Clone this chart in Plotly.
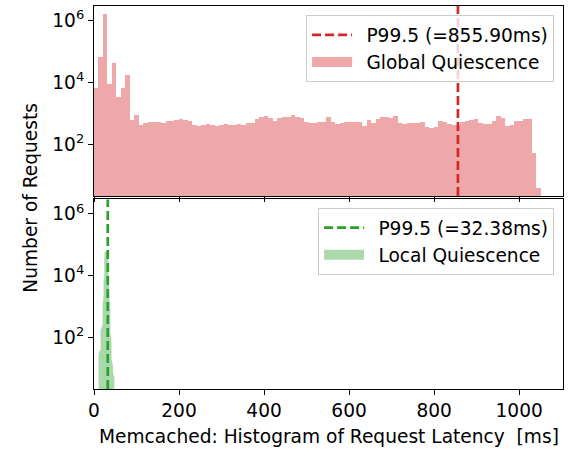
import plotly.graph_objects as go

# Latency histogram: Global Quiescence (10.51 ms bins starting at 0 ms)
global_bin_width = 10.51
global_counts = [
    6550, 64000, 1560000, 8600, 41000, 3500, 6400, 16800, 594, 861,
    410, 475, 515, 508, 512, 476, 552, 548, 594, 640,
    594, 552, 410, 405, 412, 442, 410, 381, 410, 442,
    410, 412, 442, 410, 476, 472, 640, 743, 800, 690,
    552, 690, 743, 740, 861, 743, 690, 513, 476, 476,
    513, 510, 743, 513, 442, 476, 513, 515, 510, 513,
    381, 594, 476, 640, 743, 740, 690, 800, 476, 442,
    476, 478, 474, 513, 354, 328, 354, 552, 513, 442,
    410, 410, 513, 552, 594, 640, 476, 442, 445, 552,
    800, 690, 381, 410, 552, 550, 640, 645, 51, 4,
]

# Latency histogram: Local Quiescence (1 ms bins starting at 12 ms)
local_bin_start = 12
local_bin_width = 1.0
local_counts = [
    30, 35, 33, 35, 40, 180, 200, 220, 230, 250,
    1500, 2200, 7000, 9000, 40000, 55000, 58000, 60000, 58000, 50000,
    40000, 20000, 9000, 3000, 1500, 800, 120, 90, 70, 18,
    15, 12, 7, 6, 5,
]

global_p995 = 855.90
local_p995 = 32.38

series_names = ["Global Quiescence", "Local Quiescence"]
x_ticks = [0, 200, 400, 600, 800, 1000]
y_tick_vals = [1e2, 1e4, 1e6]
y_tick_text = ["10<sup>2</sup>", "10<sup>4</sup>", "10<sup>6</sup>"]

RED = "#d62728"
GREEN = "#2ca02c"
RED_FILL = "rgb(238,168,169)"
GREEN_FILL = "rgb(171,217,171)"
FONT = "DejaVu Sans"
FS = 18.6
PAD = "\u2002"  # spacing between legend handle and label

global_x = [global_bin_width * (i + 0.5) for i in range(len(global_counts))]
local_x = [local_bin_start + local_bin_width * (i + 0.5) for i in range(len(local_counts))]

fig = go.Figure()

fig.add_trace(go.Bar(
    x=global_x, y=global_counts, width=global_bin_width,
    marker=dict(color=RED_FILL, line=dict(width=0)),
    showlegend=False, xaxis="x", yaxis="y",
))
fig.add_trace(go.Bar(
    x=local_x, y=local_counts, width=local_bin_width,
    marker=dict(color=GREEN_FILL, line=dict(width=0.4, color=GREEN_FILL)),
    showlegend=False, xaxis="x2", yaxis="y2",
))

# legend patches for the histograms
fig.add_trace(go.Scatter(
    x=[None], y=[None], mode="lines", name=PAD + series_names[0],
    line=dict(color=RED_FILL, width=12.6), legend="legend",
    legendrank=2, xaxis="x", yaxis="y",
))
fig.add_trace(go.Scatter(
    x=[None], y=[None], mode="lines", name=PAD + series_names[1],
    line=dict(color=GREEN_FILL, width=12.6), legend="legend2",
    legendrank=2, xaxis="x2", yaxis="y2",
))

# P99.5 markers
fig.add_shape(
    type="line", xref="x", yref="y domain", x0=global_p995, x1=global_p995, y0=0, y1=1,
    line=dict(color=RED, width=2.7, dash="9px,4px"),
    showlegend=True, name=f"{PAD}P99.5 (={global_p995:.2f}ms)", legend="legend", legendrank=1,
)
fig.add_shape(
    type="line", xref="x2", yref="y2 domain", x0=local_p995, x1=local_p995, y0=0, y1=1,
    line=dict(color=GREEN, width=2.7, dash="9px,4px"),
    showlegend=True, name=f"{PAD}P99.5 (={local_p995:.2f}ms)", legend="legend2", legendrank=1,
)

axis_common = dict(
    showline=True, linecolor="black", linewidth=1.2, mirror=True,
    ticks="outside", ticklen=5, tickwidth=1.1, tickcolor="black",
    showgrid=False, zeroline=False,
    tickfont=dict(family=FONT, size=FS, color="black"),
)
x_range = [0, 1103]
y_range = [0.333, 6.465]

legend_common = dict(
    bgcolor="rgba(255,255,255,0.8)", bordercolor="#cccccc", borderwidth=1,
    font=dict(family=FONT, size=FS, color="black"),
    xanchor="right", yanchor="top", itemwidth=40, tracegroupgap=0,
)

fig.update_layout(
    width=575, height=450,
    margin=dict(l=94, r=12, t=6, b=61),
    plot_bgcolor="white", paper_bgcolor="white",
    bargap=0, barmode="overlay",
    font=dict(family=FONT, size=FS, color="black"),
    xaxis=dict(axis_common, domain=[0, 1], anchor="y", range=x_range,
               tickvals=x_ticks, showticklabels=False, matches="x2"),
    yaxis=dict(axis_common, domain=[0.5039, 1], anchor="x", type="log",
               range=y_range, tickvals=y_tick_vals, ticktext=y_tick_text),
    xaxis2=dict(axis_common, domain=[0, 1], anchor="y2", range=x_range,
                tickvals=x_ticks),
    yaxis2=dict(axis_common, domain=[0, 0.4948], anchor="x2", type="log",
                range=y_range, tickvals=y_tick_vals, ticktext=y_tick_text),
    legend=dict(legend_common, x=0.981, y=0.976),
    legend2=dict(legend_common, x=0.981, y=0.4726),
    annotations=[
        dict(text="Number of Requests", xref="paper", yref="paper",
             x=-0.136, y=0.5, textangle=-90, showarrow=False,
             xanchor="center", yanchor="middle",
             font=dict(family=FONT, size=FS, color="black")),
        dict(text="Memcached: Histogram of Request Latency\u00a0 [ms]",
             xref="paper", yref="paper", x=0.5, y=-0.125, showarrow=False,
             xanchor="center", yanchor="middle",
             font=dict(family=FONT, size=FS, color="black")),
    ],
)

fig.write_html("out.html")
